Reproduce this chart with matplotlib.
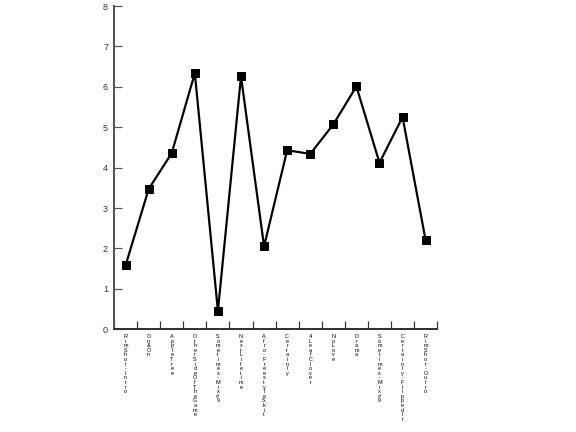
import matplotlib
matplotlib.use("Agg")
import matplotlib.pyplot as plt

tracks = ["RimShot-Intro", "On&On", "AppleTree", "OtherSideOfTheGame",
          "Sometimes-Mix#9", "NextLifetime", "Afro-FreestyleSkit", "Certainly",
          "4LeafClover", "NoLove", "Drama", "Sometimes-Mix#9",
          "Certainly-FlippedIt", "RimShot-Outro"]
values = [1.58, 3.47, 4.36, 6.34, 0.45, 6.26, 2.05, 4.43, 4.34, 5.07, 6.01, 4.12, 5.25, 2.2]
yticks = [0, 1, 2, 3, 4, 5, 6, 7, 8]

plt.rcParams['font.family'] = ['Liberation Sans', 'DejaVu Sans']
fig = plt.figure(figsize=(8, 6), dpi=72)
ax = fig.add_axes([0.198, 0.238, 0.561, 0.748])

x = list(range(len(tracks)))
ax.plot(x, values, color='black', lw=2.2, marker='s', ms=7.5, mfc='black', mec='black')

ax.set_xlim(-0.5, len(tracks) - 0.5)
ax.set_ylim(0, 8)
ax.set_yticks(yticks)
ax.set_yticklabels([str(t) for t in yticks], fontsize=9, color='#333333')

ax.set_xticks([i - 0.5 for i in range(len(tracks) + 1)])
ax.set_xticklabels([])
ax.tick_params(axis='x', direction='in', length=8, width=1.2, color='#333333')
ax.tick_params(axis='y', direction='in', length=8, width=1.2, color='#555555', pad=6)

for i, t in enumerate(tracks):
    ax.text(i, -0.12, "\n".join(t), ha='center', va='top', fontsize=5.5,
            linespacing=0.9, transform=ax.transData, color='black')

for s in ['top', 'right']:
    ax.spines[s].set_visible(False)
ax.spines['left'].set_color('#555555')
ax.spines['left'].set_linewidth(2)
ax.spines['bottom'].set_color('#333333')
ax.spines['bottom'].set_linewidth(2)

fig.savefig("out.png", dpi=72)
